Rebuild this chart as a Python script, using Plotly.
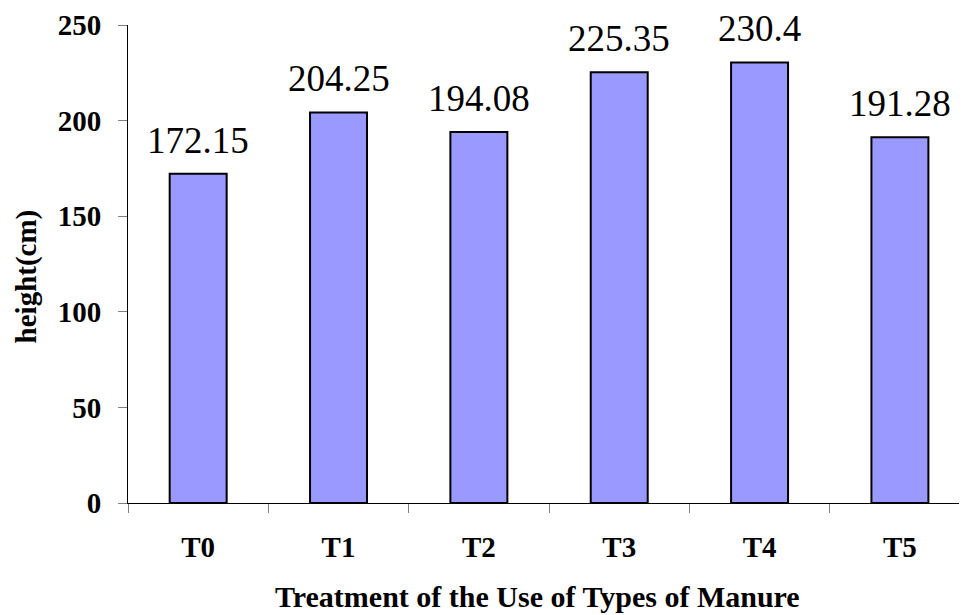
import plotly.graph_objects as go

categories = ["T0", "T1", "T2", "T3", "T4", "T5"]
heights = [172.15, 204.25, 194.08, 225.35, 230.4, 191.28]
label_texts = ["172.15", "204.25", "194.08", "225.35", "230.4", "191.28"]
y_ticks = [0, 50, 100, 150, 200, 250]

SERIF = "Liberation Serif"

fig = go.Figure()
fig.add_trace(go.Bar(
    x=categories, y=heights,
    width=0.406,
    marker=dict(color="#9999FF", line=dict(color="black", width=2)),
    hoverinfo="x+y",
))

for c, v, t in zip(categories, heights, label_texts):
    fig.add_annotation(x=c, y=v, text=t, showarrow=False, xref="x", yref="y",
                       yanchor="bottom", yshift=11,
                       font=dict(family=SERIF, size=37, color="black"))

fig.add_annotation(text="<b>Treatment of the Use of Types of Manure</b>", showarrow=False,
                   xref="paper", yref="paper", x=0.4875, y=-0.195, yanchor="middle",
                   font=dict(family=SERIF, size=30, color="black"))
fig.add_annotation(text="<b>height(cm)</b>", showarrow=False, textangle=-90,
                   xref="paper", yref="paper", x=-0.121, y=0.475, xanchor="center", yanchor="middle",
                   font=dict(family=SERIF, size=29, color="black"))

# page body has an 8px margin, so the figure is 8px smaller and margins compensate
fig.update_layout(
    width=959, height=607,
    margin=dict(l=120, r=0, t=17, b=112),
    paper_bgcolor="white", plot_bgcolor="white",
    showlegend=False,
    font=dict(family=SERIF, color="black"),
    xaxis=dict(
        type="category", range=[-0.5, 5.478],
        tickson="boundaries", ticks="outside", ticklen=9, tickcolor="#808080",
        showline=True, linecolor="black", linewidth=1,
        showgrid=False, zeroline=False,
        tickfont=dict(family=SERIF, size=29, color="black", weight="bold"),
        ticklabelstandoff=18,
    ),
    yaxis=dict(
        range=[0, 250], tickvals=y_ticks,
        ticks="outside", ticklen=9, tickcolor="#808080",
        showline=True, linecolor="black", linewidth=1,
        showgrid=False, zeroline=False,
        tickfont=dict(family=SERIF, size=29, color="black", weight="bold"),
        ticklabelstandoff=11,
    ),
)

fig.write_html("out.html")
